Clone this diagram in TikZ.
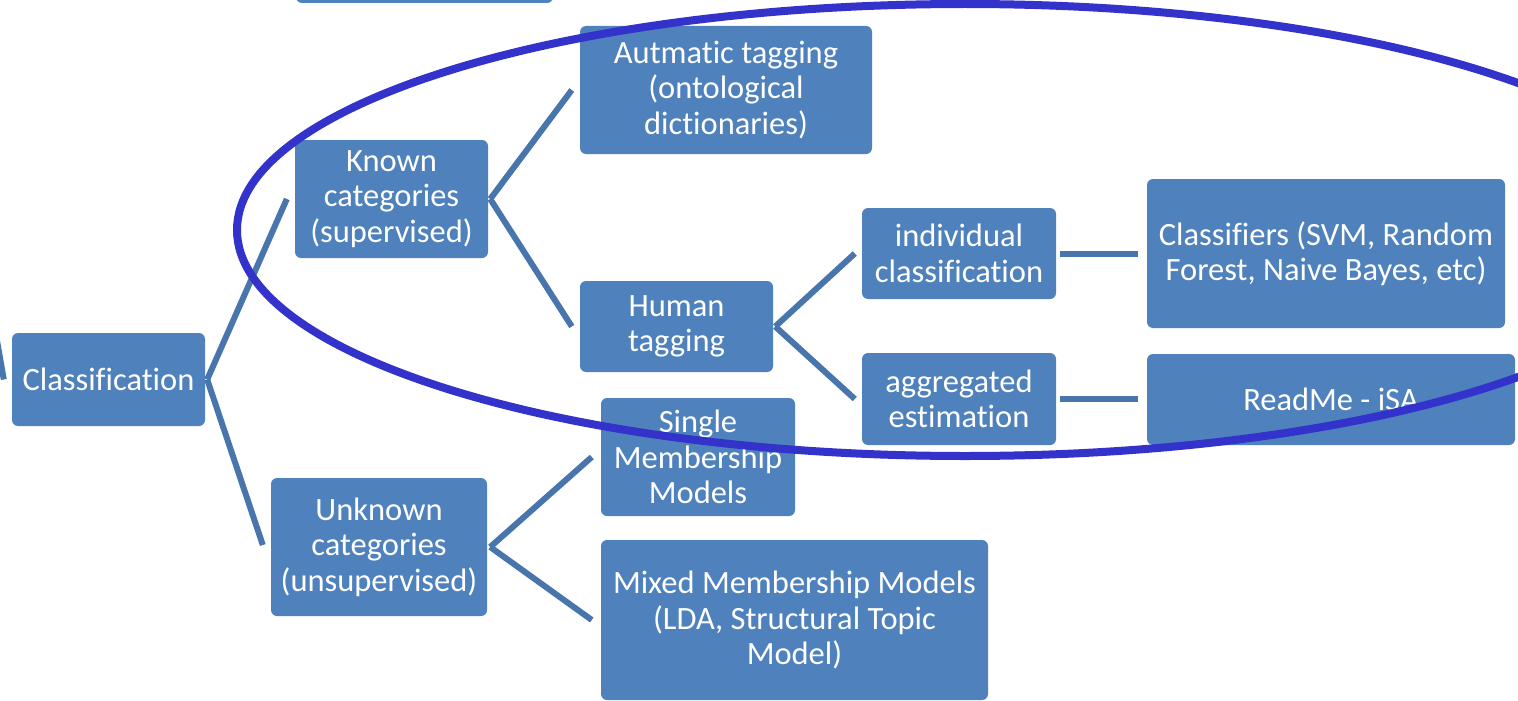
\documentclass[tikz,border=0pt]{standalone}
\usepackage{fontspec}
\setmainfont{Carlito}[Ligatures=NoCommon]
\definecolor{boxblue}{RGB}{79,129,189}
\definecolor{linkblue}{RGB}{72,117,172}
\definecolor{ringblue}{RGB}{51,51,204}
\tikzset{
  box/.style={fill=boxblue, rounded corners=6pt, text=white, align=center,
    inner sep=0pt, font=\fontsize{32.5}{35.5}\selectfont},
  conn/.style={draw=linkblue, line width=6pt},
  ring/.style={draw=ringblue, line width=8pt}
}
\begin{document}
\begin{tikzpicture}[x=1pt,y=-1pt]
\useasboundingbox (0,0) rectangle (1518,701);
\clip (0,0) rectangle (1518,701);
% nodes
\node[box, minimum width=257pt, minimum height=63pt] (top) at (424.5,-28.5) {};
\node[box, minimum width=193pt, minimum height=93pt] (cls) at (108.5,379.5) {Classification};
\node[box, minimum width=193pt, minimum height=118pt] (known) at (391.5,199) {Known\\categories\\(supervised)};
\node[box, minimum width=216pt, minimum height=138pt] (unknown) at (379,547) {Unknown\\categories\\(unsupervised)};
\node[box, minimum width=292pt, minimum height=128pt] (auto) at (726,90) {Autmatic tagging\\(ontological\\dictionaries)};
\node[box, minimum width=193pt, minimum height=91pt] (human) at (676.5,326.5) {Human\\tagging};
\node[box, minimum width=194pt, minimum height=118pt] (single) at (698,457) {Single\\Membership\\Models};
\node[box, minimum width=387pt, minimum height=160pt] (mixed) at (794.5,620) {Mixed Membership Models\\(LDA, Structural Topic\\Model)};
\node[box, minimum width=194pt, minimum height=91pt] (indiv) at (959,253.5) {individual\\classification};
\node[box, minimum width=194pt, minimum height=92pt] (aggr) at (959,399) {aggregated\\estimation};
\node[box, minimum width=358pt, minimum height=149pt] (clf) at (1326,253.5) {Classifiers (SVM, Random\\Forest, Naive Bayes, etc)};
\node[box, minimum width=368pt, minimum height=91pt] (readme) at (1331,399.5) {ReadMe - iSA};
% connectors
\coordinate (offleft) at (-4,335);
\draw[conn] (offleft) -- ([xshift=-8pt]cls.west);
\draw[conn] ([xshift=2pt]cls.east) -- ([xshift=-8pt]known.west);
\draw[conn] ([xshift=2pt]cls.east) -- ([xshift=-8pt,yshift=2pt]unknown.west);
\draw[conn] ([xshift=2pt]known.east) -- ([xshift=-8pt]auto.west);
\draw[conn] ([xshift=2pt]known.east) -- ([xshift=-8pt]human.west);
\draw[conn] ([xshift=3pt]unknown.east) -- ([xshift=-9pt]single.west);
\draw[conn] ([xshift=3pt]unknown.east) -- ([xshift=-9pt]mixed.west);
\draw[conn] ([xshift=2pt]human.east) -- ([xshift=-7pt]indiv.west);
\draw[conn] ([xshift=2pt]human.east) -- ([xshift=-7pt]aggr.west);
\draw[conn] ([xshift=4pt]indiv.east) -- ([xshift=-9pt]clf.west |- indiv.east);
\draw[conn] ([xshift=4pt]aggr.east) -- ([xshift=-9pt]readme.west |- aggr.east);
% highlight ring
\draw[ring] (965,230) ellipse [x radius=728pt, y radius=226pt];
\end{tikzpicture}
\end{document}
